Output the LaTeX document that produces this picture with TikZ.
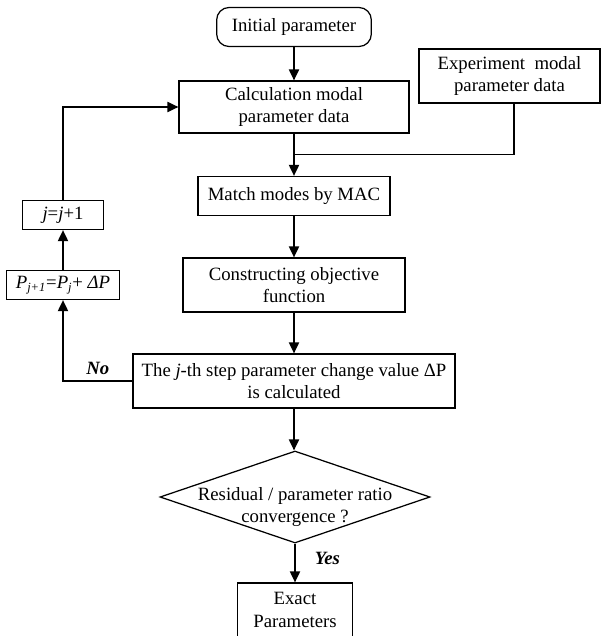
\documentclass[tikz,border=0pt]{standalone}
\usepackage{fontspec}
\setmainfont{Liberation Serif}
\usetikzlibrary{arrows.meta,calc,positioning,shapes.geometric}
\tikzset{%
	terminal/.style = {draw, rectangle, rounded corners=8pt, minimum width=99pt, minimum height=25pt, text centered},
	process/.style  = {draw, rectangle, align=center, inner sep=2pt},
	decision/.style = {draw, diamond, aspect=2.93, align=center, minimum width=172.8pt, minimum height=58.9pt, inner xsep=-32pt, inner ysep=0pt},
	arrow/.style    = {line width=0.9pt, -{Triangle[length=7pt,width=6.5pt]}},
	link/.style     = {line width=0.9pt},
	answer/.style   = {font=\fontsize{12}{14.5}\selectfont\bfseries\itshape},
}

\begin{document}
\begin{tikzpicture}[x=0.64pt, y=-0.64pt, font=\fontsize{12}{14.5}\selectfont, line width=0.8pt]
	\useasboundingbox (0,0) rectangle (603,636);
	% main column
	\node[terminal] (init) at (294,27) {Initial parameter};
	\node[process, minimum width=147.2pt, minimum height=33.3pt] (calc) at (294,107) {Calculation modal\\parameter data};
	\node[process, minimum width=115.8pt, minimum height=34.6pt] (expt) at (509.5,76) {Experiment\enspace modal\\parameter data};
	\node[process, minimum width=122.9pt, minimum height=25pt] (match) at (294,196) {Match modes by MAC};
	\node[process, minimum width=142pt, minimum height=34.6pt] (obj) at (294,285) {Constructing objective\\function};
	\node[process, minimum width=206pt, minimum height=34.6pt] (step) at (294,381) {The \textit{j}-th step parameter change value ΔP\\is calculated};
	\node[decision] (conv) at (295,497) {\rule{0pt}{21pt}Residual / parameter ratio\\convergence ?};
	\node[process, minimum width=73.6pt, minimum height=34.6pt] (exact) at (295,610) {Exact\\Parameters};
	% update loop
	\node[process, minimum width=51.8pt, minimum height=18.6pt] (jinc) at (63,215) {\textit{j}=\textit{j}+1};
	\node[process, minimum width=72.3pt, minimum height=18.6pt] (pupd) at (63,285) {\textit{P}\textsubscript{\textit{j+1}}=\textit{P}\textsubscript{\textit{j}}+ \textit{ΔP}};

	\coordinate (join) at ($(calc.south)!0.5!(match.north)$);

	\draw[arrow] (init) -- (calc);
	\draw[arrow] (calc) -- (match);
	\draw[link] ([xshift=3pt]expt.south) |- (join);
	\draw[arrow] (match) -- (obj);
	\draw[arrow] (obj) -- (step);
	\draw[arrow] (step) -- (step.south |- conv.north);
	\draw[arrow] (conv.south) -- node[answer, right, xshift=9pt, yshift=3pt] {Yes} (exact.north);
	\draw[arrow] (step.west) -- node[answer, above] {No} (pupd |- step.west) -- (pupd.south);
	\draw[arrow] (pupd) -- (jinc);
	\draw[arrow] (jinc.north) |- (calc.west);
\end{tikzpicture}
\end{document}
